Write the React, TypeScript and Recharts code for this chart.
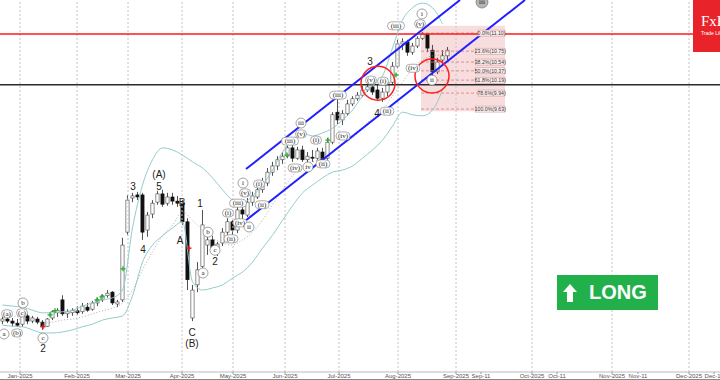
import {
  ComposedChart,
  Bar,
  Line,
  Scatter,
  XAxis,
  YAxis,
  ReferenceLine,
  ReferenceArea,
  ReferenceDot,
} from 'recharts'

// daily candles (every 2nd session), price in USD
const open = [
  5.53, 5.57, 5.53, 5.49, 5.47, 5.63, 5.53, 5.57, 5.51, 5.43,
  5.59, 5.69, 5.94, 5.67, 5.69, 5.73, 5.71, 5.8, 5.76, 5.88,
  5.94, 6.02, 6.09, 5.86, 5.94, 7.25, 7.91, 7.97, 7.97, 7.29,
  7.6, 7.83, 7.99, 7.81, 7.93, 7.85, 7.81, 7.45, 5.59, 6.23,
  6.59, 7.0, 7.1, 6.9, 7.04, 7.25, 7.45, 7.29, 7.68, 7.58,
  7.83, 7.93, 8.07, 8.2, 8.41, 8.53, 8.65, 8.72, 8.88, 8.68,
  8.84, 8.65, 8.7, 8.68, 8.8, 8.68, 8.99, 9.57, 9.42, 9.54,
  9.73, 9.83, 9.9, 10.0, 10.06, 10.0, 9.84, 9.96, 10.15, 10.46,
  10.89, 10.93, 10.73, 10.85, 11.0, 11.08, 10.77, 10.35, 10.58, 10.66,
]
const high = [
  5.61, 5.69, 5.59, 5.57, 5.73, 5.67, 5.63, 5.61, 5.55, 5.59,
  5.74, 5.78, 6.03, 5.76, 5.78, 5.82, 5.88, 5.88, 5.92, 5.98,
  6.05, 6.13, 6.11, 5.94, 7.14, 7.97, 8.01, 8.03, 8.01, 7.64,
  7.87, 8.05, 8.07, 8.01, 8.01, 7.95, 7.87, 7.52, 6.23, 6.67,
  7.68, 7.18, 7.18, 7.06, 7.33, 7.52, 7.48, 7.78, 7.81, 7.91,
  8.03, 8.14, 8.3, 8.49, 8.61, 8.72, 8.8, 8.94, 8.94, 8.9,
  8.92, 8.8, 8.84, 8.88, 8.88, 9.07, 9.57, 9.92, 9.61, 9.81,
  9.88, 9.96, 10.08, 10.12, 10.15, 10.1, 10.04, 10.23, 10.54, 10.97,
  11.0, 10.97, 10.91, 11.04, 11.12, 11.1, 10.87, 10.62, 10.77, 10.83,
]
const low = [
  5.47, 5.49, 5.43, 5.42, 5.42, 5.47, 5.49, 5.47, 5.36, 5.42,
  5.55, 5.61, 5.63, 5.59, 5.63, 5.65, 5.67, 5.71, 5.73, 5.82,
  5.9, 5.98, 5.84, 5.8, 5.9, 7.19, 7.83, 7.87, 7.1, 7.16,
  7.52, 7.78, 7.74, 7.76, 7.78, 7.74, 7.39, 6.13, 5.53, 6.09,
  6.56, 6.81, 6.87, 6.79, 6.98, 7.19, 7.18, 7.23, 7.45, 7.54,
  7.76, 7.89, 8.01, 8.14, 8.34, 8.45, 8.57, 8.68, 8.61, 8.65,
  8.61, 8.55, 8.61, 8.65, 8.55, 8.65, 8.95, 9.34, 9.32, 9.5,
  9.69, 9.79, 9.86, 9.96, 9.9, 9.81, 9.77, 9.88, 10.1, 10.42,
  10.77, 10.66, 10.68, 10.81, 10.97, 10.73, 10.23, 10.31, 10.5, 10.58,
]
const close = [
  5.57, 5.53, 5.49, 5.45, 5.67, 5.53, 5.59, 5.51, 5.42, 5.57,
  5.71, 5.74, 5.67, 5.71, 5.74, 5.69, 5.82, 5.74, 5.88, 5.94,
  6.02, 6.07, 5.88, 5.9, 7.0, 7.87, 7.95, 7.93, 7.25, 7.58,
  7.81, 7.99, 7.79, 7.93, 7.85, 7.81, 7.45, 6.33, 6.13, 6.52,
  7.39, 7.1, 6.94, 7.02, 7.25, 7.45, 7.29, 7.68, 7.6, 7.83,
  7.95, 8.07, 8.2, 8.41, 8.53, 8.65, 8.72, 8.88, 8.68, 8.84,
  8.65, 8.72, 8.68, 8.82, 8.61, 8.99, 9.52, 9.42, 9.54, 9.73,
  9.83, 9.9, 10.0, 10.06, 9.96, 9.84, 9.96, 10.15, 10.46, 10.89,
  10.93, 10.73, 10.85, 11.0, 11.08, 10.81, 10.35, 10.54, 10.66, 10.77,
]

// bollinger bands, one value every 2nd candle
const bandUpper = [
  5.84, 5.82, 5.8, 5.74, 5.69, 5.69, 5.71, 5.74, 5.82, 5.88,
  5.94, 5.98, 6.13, 7.33, 8.16, 8.65, 8.88, 8.84, 8.74, 8.61,
  8.49, 8.3, 8.07, 7.87, 7.81, 7.95, 8.16, 8.45, 8.8, 9.03,
  9.17, 9.11, 9.17, 9.26, 9.42, 9.61, 9.88, 10.08, 10.27, 10.81,
  11.35, 11.59, 11.68, 11.59, 11.28,
]
const bandMiddle = [
  5.65, 5.63, 5.59, 5.55, 5.49, 5.51, 5.55, 5.57, 5.61, 5.67,
  5.73, 5.78, 5.88, 6.13, 6.52, 6.87, 7.18, 7.39, 7.64, 7.48,
  7.29, 7.14, 7.04, 7.0, 7.1, 7.25, 7.48, 7.78, 8.07, 8.34,
  8.53, 8.61, 8.68, 8.8, 8.94, 9.07, 9.26, 9.46, 9.61, 9.88,
  10.15, 10.42, 10.58, 10.66, 10.68,
]
const bandLower = [
  5.45, 5.43, 5.42, 5.36, 5.3, 5.3, 5.32, 5.36, 5.42, 5.47,
  5.55, 5.59, 5.63, 6.02, 6.67, 7.0, 7.18, 7.33, 7.45, 6.29,
  6.13, 6.17, 6.23, 6.36, 6.48, 6.67, 6.94, 7.19, 7.48, 7.76,
  8.01, 8.16, 8.3, 8.41, 8.45, 8.53, 8.68, 8.84, 9.03, 9.3,
  9.57, 9.52, 9.5, 9.61, 10.0,
]

// x axis in session units
const tickPos = [8, 30.8, 51.2, 72.8, 93.2, 114, 135.6, 159.2, 182.4, 192.4, 212.8, 222.8, 244.8, 255.2, 275.6, 285.6]
const tickText = [
  'Jan-2025', 'Feb-2025', 'Mar-2025', 'Apr-2025', 'May-2025', 'Jun-2025', 'Jul-2025', 'Aug-2025',
  'Sep-2025', 'Sep-11', 'Oct-2025', 'Oct-11', 'Nov-2025', 'Nov-11', 'Dec-2025', 'Dec-11',
]
const monthLines = [8, 30.8, 51.2, 72.8, 93.2, 114, 135.6, 159.2, 182.4, 212.8, 244.8, 275.6]

// fibonacci retracement
const fibPct = ['0.0%', '23.6%', '38.2%', '50.0%', '61.8%', '78.6%', '100.0%']
const fibLevels = [11.1, 10.75, 10.54, 10.37, 10.19, 9.94, 9.63]

const resistance = 11.08
const support = 10.1

// [t, price, text, kind]  n = plain, p = pill, c = circle, g = grey circle
const waveLabels: [number, number, string, string][] = [
  [2.8, 5.67, '(a)', 'p'], [1.6, 5.28, 'a', 'c'], [9.2, 5.88, 'b', 'c'], [8.8, 5.69, '(c)', 'p'],
  [6.8, 5.3, '(b)', 'p'], [17.2, 5.2, 'c', 'c'], [17.2, 4.99, '2', 'n'],
  [53.2, 8.14, '3', 'n'], [63.6, 8.36, '(A)', 'n'], [63.6, 8.14, '5', 'n'], [57.2, 6.92, '4', 'n'],
  [72.8, 7.83, 'B', 'n'], [72, 7.08, 'A', 'n'], [80, 7.81, '1', 'n'], [83.2, 7.25, 'b', 'c'],
  [86, 6.9, 'c', 'c'], [86, 6.69, '2', 'n'], [81.2, 6.46, 'a', 'c'], [76.8, 5.3, 'C', 'n'],
  [76.8, 5.09, '(B)', 'n'],
  [97.2, 8.2, 'i', 'c'], [98, 8.01, '(v)', 'p'], [95.2, 7.81, '(iii)', 'p'], [91.2, 7.62, '(i)', 'p'],
  [92.4, 7.12, '(ii)', 'p'], [96, 7.43, '(iv)', 'p'], [99.6, 7.35, 'ii', 'c'], [103.6, 8.18, '(i)', 'p'],
  [104.8, 7.78, '(ii)', 'p'], [116, 9.01, '(iii)', 'p'], [120.4, 9.36, 'iii', 'c'], [120.4, 9.15, '(v)', 'p'],
  [118, 8.49, '(iv)', 'p'], [123.2, 8.51, 'iv', 'c'], [126.4, 9.03, '(i)', 'p'], [129.2, 8.57, '(ii)', 'p'],
  [135.2, 9.9, '(iii)', 'p'], [137.2, 9.11, '(iv)', 'p'], [148, 10.56, '3', 'n'], [148.4, 10.19, '(v)', 'p'],
  [153.2, 10.17, '(i)', 'p'], [150.8, 9.54, '4', 'n'], [154.8, 9.59, '(ii)', 'p'], [158.4, 11.24, '(iii)', 'p'],
  [168, 11.28, '(v)', 'p'], [168.8, 11.47, 'i', 'c'], [165.2, 10.42, '(iv)', 'p'], [172.8, 10.19, 'ii', 'c'],
  [192.8, 11.7, 'iii', 'g'],
]

const greenMarks: [number, number][] = [
  [20, 5.65], [22, 5.73], [38.8, 5.94], [40.8, 6.0], [49.2, 6.54], [114.8, 8.74], [131.2, 9.03], [158.4, 10.29],
]
const redMarks: [number, number][] = [[17.2, 5.42], [75.6, 6.94]]

const rows = open.map((o, i) => ({
  t: 2 * i + 1,
  o,
  h: high[i],
  l: low[i],
  c: close[i],
  range: [low[i], high[i]],
}))

const bandRows = bandUpper.map((up, i) => ({ t: 4 * i + 1, up, mid: bandMiddle[i], lo: bandLower[i] }))

const labelRows = waveLabels.map(([t, p, text, k]) => ({ t, p, text, k }))
const fibRows = fibLevels.map((p, i) => ({ t: 196.6, p, text: `${fibPct[i]}(${p.toFixed(2)})` }))
const greenRows = greenMarks.map(([t, p]) => ({ t, p }))
const redRows = redMarks.map(([t, p]) => ({ t, p }))

const Candle = (props: any) => {
  const { x, y, width, height, payload } = props
  if (payload == null || y == null) return null
  const { o, h, l, c } = payload
  const top = Math.min(y, y + height)
  const span = Math.abs(height)
  const py = (v: number) => top + ((h - v) / (h - l)) * span
  const up = c >= o
  const bTop = py(Math.max(o, c))
  const bBot = py(Math.min(o, c))
  const mid = x + width / 2
  return (
    <g>
      <line x1={mid} x2={mid} y1={top} y2={top + span} stroke="#222" strokeWidth={0.8} />
      <rect
        x={mid - 1.6}
        y={bTop}
        width={3.2}
        height={Math.max(1, bBot - bTop)}
        fill={up ? '#ffffff' : '#111111'}
        stroke={up ? '#444' : '#111'}
        strokeWidth={0.6}
      />
    </g>
  )
}

const serif = 'Liberation Serif, DejaVu Serif, serif'
const sans = 'Liberation Sans, Arial, sans-serif'

const WaveTag = (props: any) => {
  const { cx, cy, payload } = props
  const { text, k } = payload
  if (k === 'n') {
    return (
      <text x={cx} y={cy} fontSize={10} fontFamily={sans} textAnchor="middle" dominantBaseline="central" fill="#222">
        {text}
      </text>
    )
  }
  if (k === 'p') {
    const w = text.length * 3 + 2
    return (
      <g>
        <rect x={cx - w / 2} y={cy - 4} width={w} height={8} rx={4} fill="#fff" stroke="#777" strokeWidth={0.6} />
        <text x={cx} y={cy} fontSize={7} fontFamily={serif} textAnchor="middle" dominantBaseline="central" fill="#222">
          {text}
        </text>
      </g>
    )
  }
  return (
    <g>
      <circle cx={cx} cy={cy} r={k === 'g' ? 6 : 5} fill={k === 'g' ? '#b5b5b5' : '#fff'} stroke="#666" strokeWidth={0.6} />
      <text x={cx} y={cy} fontSize={7} fontFamily={serif} textAnchor="middle" dominantBaseline="central" fill="#222">
        {text}
      </text>
    </g>
  )
}

const FibTag = (props: any) => {
  const { cx, cy, payload } = props
  const w = payload.text.length * 2.45
  const right = cx + 13.5
  return (
    <g>
      <rect x={right - w} y={cy - 3} width={w} height={6} fill="#fdf0f0" stroke="#d08a8a" strokeWidth={0.5} />
      <text x={right - w / 2} y={cy + 0.3} fontSize={5.2} fontFamily={sans} textAnchor="middle" dominantBaseline="central" fill="#333">
        {payload.text}
      </text>
    </g>
  )
}

const cross = (color: string) => (props: any) => {
  const { cx, cy } = props
  return (
    <g stroke={color} strokeWidth={1.4}>
      <line x1={cx - 2.5} x2={cx + 2.5} y1={cy} y2={cy} />
      <line x1={cx} x2={cx} y1={cy - 2.5} y2={cy + 2.5} />
    </g>
  )
}

export default function App() {
  return (
    <div style={{ position: 'fixed', left: 0, top: 0, width: 720, height: 380, background: '#fff', overflow: 'hidden' }}>
      <ComposedChart width={720} height={380} data={rows} margin={{ top: 0, right: 0, bottom: 0, left: 0 }}>
        <XAxis
          dataKey="t"
          type="number"
          domain={[0, 288]}
          allowDataOverflow
          ticks={tickPos}
          interval={0}
          tickFormatter={(v: number) => tickText[tickPos.indexOf(v)] ?? ''}
          tick={{ fontSize: 6, fill: '#555', fontFamily: sans }}
          tickSize={2}
          tickMargin={0}
          axisLine={{ stroke: '#bbb' }}
          tickLine={{ stroke: '#999' }}
          height={8}
        />
        <YAxis hide type="number" domain={[4.545, 11.74]} allowDataOverflow />

        <ReferenceArea x1={168.4} x2={202} y1={9.59} y2={11.24} fill="#f2c6c6" fillOpacity={0.6} stroke="none" />
        {monthLines.map(t => (
          <ReferenceLine key={`m-${t}`} x={t} stroke="#c4c4c4" strokeDasharray="2 2" />
        ))}
        {fibLevels.map(p => (
          <ReferenceLine
            key={`f-${p}`}
            segment={[{ x: 168.4, y: p }, { x: 191.4, y: p }]}
            stroke="#e07a7a"
            strokeDasharray="3 2"
            strokeWidth={0.8}
          />
        ))}

        <ReferenceLine y={resistance} stroke="#ff1a1a" strokeWidth={1.5} />
        <ReferenceLine y={support} stroke="#2a2a2a" strokeWidth={1.5} />

        <Line data={bandRows} dataKey="up" type="monotone" stroke="#94cccb" strokeWidth={1} dot={false} activeDot={false} isAnimationActive={false} />
        <Line data={bandRows} dataKey="lo" type="monotone" stroke="#94cccb" strokeWidth={1} dot={false} activeDot={false} isAnimationActive={false} />
        <Line data={bandRows} dataKey="mid" type="monotone" stroke="#9a9a9a" strokeWidth={0.8} strokeDasharray="1 2" dot={false} activeDot={false} isAnimationActive={false} />

        <Bar dataKey="range" barSize={3} shape={Candle} isAnimationActive={false} />

        <ReferenceLine segment={[{ x: 98.4, y: 8.47 }, { x: 184, y: 11.74 }]} stroke="#1f1fff" strokeWidth={2} ifOverflow="visible" />
        <ReferenceLine segment={[{ x: 98.4, y: 7.48 }, { x: 210, y: 11.74 }]} stroke="#1f1fff" strokeWidth={2} ifOverflow="visible" />

        <ReferenceDot x={151.2} y={10.13} r={17} fill="none" stroke="#ff2020" strokeWidth={1.5} />
        <ReferenceDot x={172.8} y={10.27} r={17} fill="none" stroke="#ff2020" strokeWidth={1.5} />

        <Scatter data={greenRows} dataKey="p" shape={cross('#2fae3a')} isAnimationActive={false} />
        <Scatter data={redRows} dataKey="p" shape={cross('#e02020')} isAnimationActive={false} />
        <Scatter data={labelRows} dataKey="p" shape={WaveTag} isAnimationActive={false} />
        <Scatter data={fibRows} dataKey="p" shape={FibTag} isAnimationActive={false} />
      </ComposedChart>

      <div style={{ position: 'absolute', left: 0, top: 379, width: 720, height: 1, background: '#888' }} />

      <div
        style={{
          position: 'absolute',
          left: 557,
          top: 275,
          width: 101,
          height: 35,
          background: '#22b04b',
          display: 'flex',
          alignItems: 'center',
          color: '#fff',
          fontFamily: sans,
          fontWeight: 700,
          fontSize: 20,
        }}
      >
        <svg width={14} height={18} style={{ marginLeft: 6, marginRight: 12 }}>
          <polygon points="7,0 14,8 10,8 10,18 4,18 4,8 0,8" fill="#fff" />
        </svg>
        <span>LONG</span>
      </div>

      <div style={{ position: 'absolute', left: 693, top: 0, width: 27, height: 52, background: '#e8232a', overflow: 'hidden' }}>
        <div style={{ position: 'absolute', left: 8, top: 13, color: '#fff', fontFamily: serif, fontSize: 15, whiteSpace: 'nowrap' }}>
          FxPro
        </div>
        <div style={{ position: 'absolute', left: 8, top: 30, color: '#fff', fontFamily: sans, fontSize: 5, whiteSpace: 'nowrap' }}>
          Trade Like a Pro
        </div>
      </div>
    </div>
  )
}
